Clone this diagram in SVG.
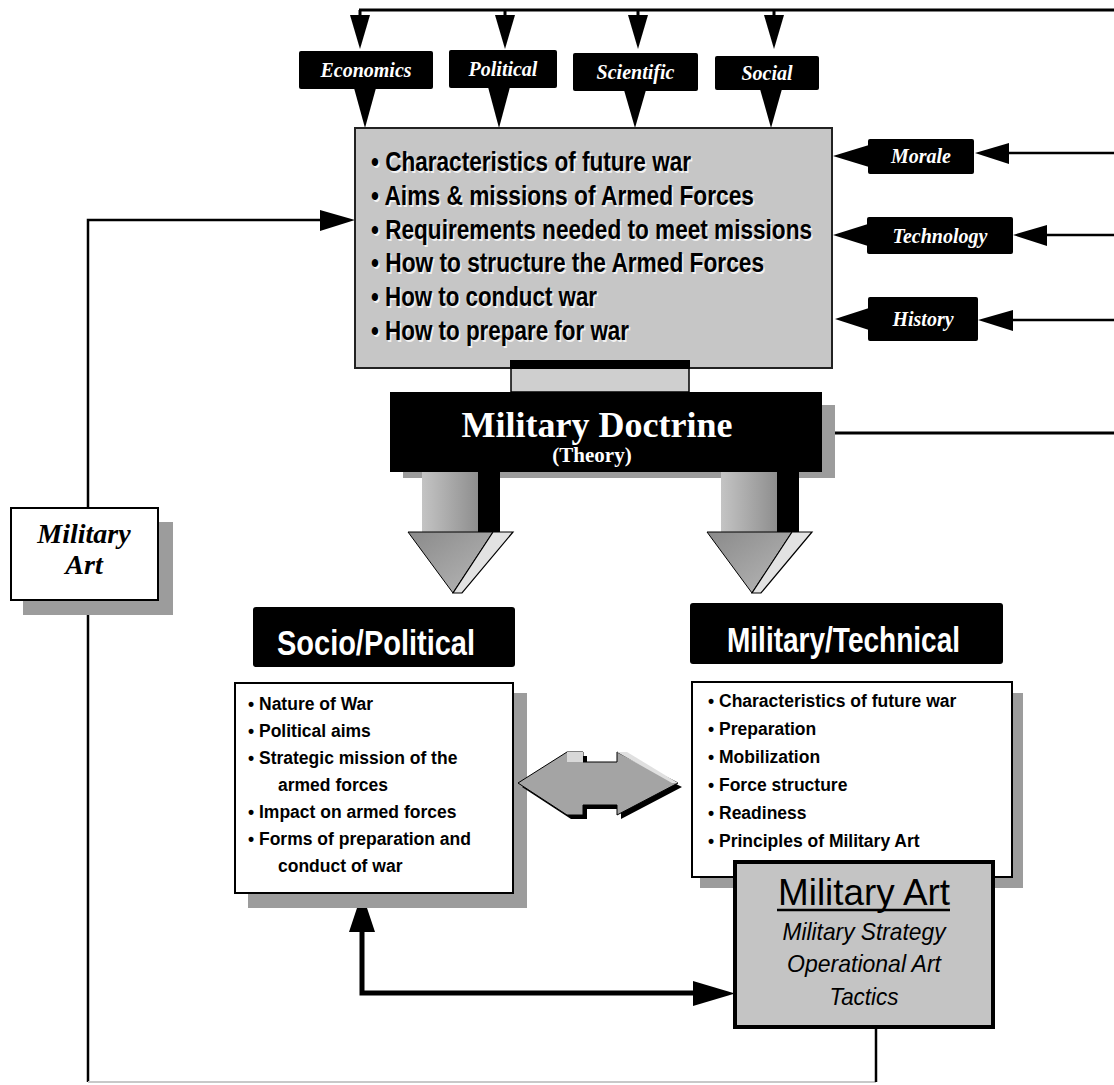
<svg xmlns="http://www.w3.org/2000/svg" width="1114" height="1085" viewBox="0 0 1114 1085">
<defs>
<style>
.bk{fill:#000}
.ln{stroke:#000;stroke-width:3;fill:none}
.lnt{stroke:#000;stroke-width:2.5;fill:none}
.lbl{font-family:"Liberation Serif","Times New Roman",serif;font-weight:bold;font-style:italic;fill:#fff;font-size:20px;text-anchor:middle}
.main{font-family:"Liberation Sans Narrow","Liberation Sans",Arial,sans-serif;font-weight:bold;font-size:27px}
.hdr{font-family:"Liberation Sans Narrow","Liberation Sans",Arial,sans-serif;font-weight:bold;font-size:35px;fill:#fff;text-anchor:middle}
.list{font-family:"Liberation Sans",Arial,sans-serif;font-weight:bold;font-size:17.5px;fill:#000}
.shadow{fill:#9c9c9c}
.ma{font-family:"Liberation Sans",Arial,sans-serif;text-anchor:middle;fill:#000}
</style>
<linearGradient id="gstem" x1="0" y1="0" x2="1" y2="0">
<stop offset="0" stop-color="#c4c4c4"/><stop offset="1" stop-color="#8e8e8e"/>
</linearGradient>
<linearGradient id="ghead" x1="0" y1="0" x2="1" y2="1">
<stop offset="0" stop-color="#8a8a8a"/><stop offset="1" stop-color="#b8b8b8"/>
</linearGradient>
</defs>
<rect width="1114" height="1085" fill="#fff"/>

<g id="connectors">
<!-- top distribution line -->
<path class="ln" d="M359,10 H1114"/>
<path class="ln" d="M360,10 V18 M505,10 V18 M638,10 V18 M774,10 V18"/>
<polygon class="bk" points="350,15 370,15 360,49"/>
<polygon class="bk" points="495,15 515,15 505,49"/>
<polygon class="bk" points="628,15 648,15 638,49"/>
<polygon class="bk" points="764,15 784,15 774,49"/>
<!-- right inputs -->
<path class="lnt" d="M1114,153 H1005"/>
<polygon class="bk" points="1009,143 1009,164 975,153"/>
<path class="lnt" d="M1114,235 H1043"/>
<polygon class="bk" points="1047,225 1047,246 1013,235"/>
<path class="lnt" d="M1114,320 H1009"/>
<polygon class="bk" points="1013,310 1013,331 978,320"/>
<!-- doctrine output line -->
<path class="ln" d="M835,433 H1114"/>
<!-- left feedback -->
<path class="lnt" d="M88,1082 V220 H322"/>
<polygon class="bk" points="320,210 320,231 355,220"/>
<!-- bottom feedback -->
<path d="M88,1082 H876" stroke="#c8c8c8" stroke-width="2" fill="none"/>
<path class="lnt" d="M876,1027 V1082"/>
<!-- socio <-> military art -->
<path d="M362,928 V993 H697" stroke="#000" stroke-width="5" fill="none"/>
<polygon class="bk" points="349,932 375,932 362,893"/>
<polygon class="bk" points="693,981 693,1006 735,993.5"/>
</g>

<g id="economics">
<rect class="bk" x="299" y="51" width="134" height="38" rx="2"/>
<polygon class="bk" points="354,88 376,88 365,128"/>
<text class="lbl" x="366" y="77">Economics</text>
</g>
<g id="political">
<rect class="bk" x="449" y="50" width="108" height="38" rx="2"/>
<polygon class="bk" points="488,87 510,87 499,128"/>
<text class="lbl" x="503" y="76">Political</text>
</g>
<g id="scientific">
<rect class="bk" x="573" y="53" width="125" height="38" rx="2"/>
<polygon class="bk" points="624,90 646,90 635,128"/>
<text class="lbl" x="635.5" y="79">Scientific</text>
</g>
<g id="social">
<rect class="bk" x="715" y="56" width="104" height="34" rx="2"/>
<polygon class="bk" points="760,89 782,89 771,128"/>
<text class="lbl" x="767" y="80">Social</text>
</g>

<g id="morale">
<rect class="bk" x="868" y="139" width="106" height="35" rx="2"/>
<polygon class="bk" points="869,145 869,167 833,156"/>
<text class="lbl" x="921" y="163">Morale</text>
</g>
<g id="technology">
<rect class="bk" x="867" y="217" width="146" height="37" rx="2"/>
<polygon class="bk" points="868,224 868,246 833,235"/>
<text class="lbl" x="940" y="243">Technology</text>
</g>
<g id="history">
<rect class="bk" x="868" y="297" width="110" height="44" rx="2"/>
<polygon class="bk" points="869,308 869,330 835,319"/>
<text class="lbl" x="923" y="326">History</text>
</g>

<g id="doctrine-content">
<rect x="355" y="128" width="477" height="240" fill="#c6c6c6" stroke="#222" stroke-width="2"/>
<g class="main" fill="#f2f2f2" transform="translate(1.5,1.5)">
<text x="371" y="171" textLength="320" lengthAdjust="spacingAndGlyphs">• Characteristics of future war</text>
<text x="371" y="205" textLength="383" lengthAdjust="spacingAndGlyphs">• Aims &amp; missions of Armed Forces</text>
<text x="371" y="239" textLength="441" lengthAdjust="spacingAndGlyphs">• Requirements needed to meet missions</text>
<text x="371" y="272" textLength="393" lengthAdjust="spacingAndGlyphs">• How to structure the Armed Forces</text>
<text x="371" y="306" textLength="226" lengthAdjust="spacingAndGlyphs">• How to conduct war</text>
<text x="371" y="340" textLength="258" lengthAdjust="spacingAndGlyphs">• How to prepare for war</text>
</g>
<g class="main" fill="#000">
<text x="371" y="171" textLength="320" lengthAdjust="spacingAndGlyphs">• Characteristics of future war</text>
<text x="371" y="205" textLength="383" lengthAdjust="spacingAndGlyphs">• Aims &amp; missions of Armed Forces</text>
<text x="371" y="239" textLength="441" lengthAdjust="spacingAndGlyphs">• Requirements needed to meet missions</text>
<text x="371" y="272" textLength="393" lengthAdjust="spacingAndGlyphs">• How to structure the Armed Forces</text>
<text x="371" y="306" textLength="226" lengthAdjust="spacingAndGlyphs">• How to conduct war</text>
<text x="371" y="340" textLength="258" lengthAdjust="spacingAndGlyphs">• How to prepare for war</text>
</g>
</g>

<g id="military-doctrine">
<rect x="511" y="361" width="178" height="31" fill="#cfcfcf" stroke="#000" stroke-width="1.5"/>
<rect class="bk" x="510" y="360" width="180" height="9"/>
<rect class="shadow" x="403" y="405" width="432" height="73"/>
<rect class="bk" x="390" y="392" width="432" height="80"/>
<text x="597" y="437" font-family="Liberation Serif, Times New Roman, serif" font-weight="bold" font-size="36" fill="#fff" text-anchor="middle">Military Doctrine</text>
<text x="592" y="462" font-family="Liberation Serif, Times New Roman, serif" font-weight="bold" font-size="21" fill="#fff" text-anchor="middle">(Theory)</text>
</g>

<g id="arrow-left">
<rect x="422" y="472" width="56" height="60" fill="url(#gstem)"/>
<rect class="bk" x="478" y="472" width="22" height="60"/>
<polygon points="408,532 493,532 453,593" fill="url(#ghead)" stroke="#000" stroke-width="1"/>
<polygon points="493,532 513,532 462,593 453,593" fill="#e2e2e2" stroke="#000" stroke-width="1.2"/>
</g>
<g id="arrow-right" transform="translate(299,0)">
<rect x="422" y="472" width="56" height="60" fill="url(#gstem)"/>
<rect class="bk" x="478" y="472" width="22" height="60"/>
<polygon points="408,532 493,532 453,593" fill="url(#ghead)" stroke="#000" stroke-width="1"/>
<polygon points="493,532 513,532 462,593 453,593" fill="#e2e2e2" stroke="#000" stroke-width="1.2"/>
</g>

<g id="military-art-left">
<rect class="shadow" x="23" y="522" width="150" height="93"/>
<rect x="11" y="508" width="147" height="92" fill="#fff" stroke="#000" stroke-width="2"/>
<text x="84" y="543" font-family="Liberation Serif, Times New Roman, serif" font-weight="bold" font-style="italic" font-size="28" text-anchor="middle">Military</text>
<text x="84" y="574" font-family="Liberation Serif, Times New Roman, serif" font-weight="bold" font-style="italic" font-size="28" text-anchor="middle">Art</text>
</g>

<g id="socio-political">
<rect class="bk" x="253" y="607" width="262" height="60" rx="3"/>
<text class="hdr" x="376" y="655" textLength="198" lengthAdjust="spacingAndGlyphs">Socio/Political</text>
<rect class="shadow" x="248" y="693" width="279" height="215"/>
<rect x="235" y="683" width="278" height="210" fill="#fff" stroke="#000" stroke-width="2"/>
<text class="list" x="248" y="710">• Nature of War</text>
<text class="list" x="248" y="737">• Political aims</text>
<text class="list" x="248" y="764">• Strategic mission of the</text>
<text class="list" x="278" y="791">armed forces</text>
<text class="list" x="248" y="818">• Impact on armed forces</text>
<text class="list" x="248" y="845">• Forms of preparation and</text>
<text class="list" x="278" y="872">conduct of war</text>
</g>

<g id="military-technical">
<rect class="bk" x="690" y="603" width="313" height="61" rx="3"/>
<text class="hdr" x="843.5" y="652" textLength="233" lengthAdjust="spacingAndGlyphs">Military/Technical</text>
<rect class="shadow" x="700" y="693" width="323" height="195"/>
<rect x="692" y="682" width="320" height="195" fill="#fff" stroke="#000" stroke-width="2"/>
<text class="list" x="708" y="707">• Characteristics of future war</text>
<text class="list" x="708" y="735">• Preparation</text>
<text class="list" x="708" y="763">• Mobilization</text>
<text class="list" x="708" y="791">• Force structure</text>
<text class="list" x="708" y="819">• Readiness</text>
<text class="list" x="708" y="847">• Principles of Military Art</text>
</g>

<g id="double-arrow">
<polygon class="bk" points="522,787 571,756 587,756 587,766 621,766 621,756 682,787 621,819 621,809 587,809 587,819 571,819"/>
<polygon points="518,783 567,752 583,752 583,762 617,762 617,752 678,783 617,815 617,805 583,805 583,815 567,815" fill="#a4a4a4" stroke="#000" stroke-width="1"/>
<polygon points="617,752 627,752 678,783 672,783" fill="#e0e0e0"/>
<rect x="567" y="752" width="16" height="10" fill="#d8d8d8"/>
</g>

<g id="military-art">
<rect x="735" y="862" width="258" height="165" fill="#c4c4c4" stroke="#000" stroke-width="4"/>
<text class="ma" x="864" y="905" font-size="36" textLength="172" lengthAdjust="spacingAndGlyphs">Military Art</text>
<line x1="777" y1="910" x2="950" y2="910" stroke="#000" stroke-width="2.5"/>
<text class="ma" x="864" y="940" font-size="24" font-style="italic" textLength="163" lengthAdjust="spacingAndGlyphs">Military Strategy</text>
<text class="ma" x="864" y="972" font-size="24" font-style="italic" textLength="154" lengthAdjust="spacingAndGlyphs">Operational Art</text>
<text class="ma" x="864" y="1005" font-size="24" font-style="italic" textLength="69" lengthAdjust="spacingAndGlyphs">Tactics</text>
</g>
</svg>
